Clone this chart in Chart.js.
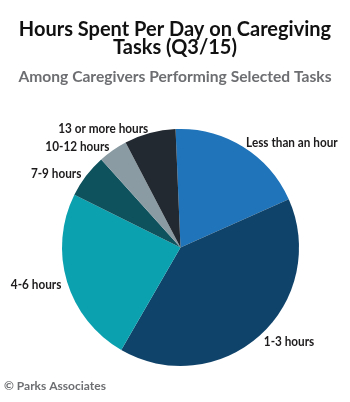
<!DOCTYPE html>
<html>
<head>
<meta charset="utf-8">
<script src="https://cdn.jsdelivr.net/npm/chart.js@4"></script>
<style>
  html, body { margin: 0; padding: 0; background: #fff; }
  #wrap { width: 350px; height: 402px; position: relative; }
</style>
</head>
<body>
<div id="wrap"><canvas id="pie-chart"></canvas></div>
<script>
const categories = ["Less than an hour", "1-3 hours", "4-6 hours", "7-9 hours", "10-12 hours", "13 or more hours"];
const shares = [19, 40, 24, 6, 4, 7];
const sliceColors = ["#1f74ba", "#10436a", "#0ba1af", "#0e525d", "#8a9ba3", "#232930"];
const titleLines = ["Hours Spent Per Day on Caregiving", "Tasks (Q3/15)"];
const subtitleText = "Among Caregivers Performing Selected Tasks";
const sourceText = "\u00a9 Parks Associates";

// condensed look for the slice labels
const labelSqueeze = 0.84;

// titles, slice labels and source line
const textPlugin = {
  id: 'chartText',
  afterDraw(chart) {
    const ctx = chart.ctx;
    ctx.save();
    ctx.textBaseline = 'middle';

    ctx.fillStyle = '#111';
    ctx.textAlign = 'center';
    ctx.font = 'bold 20px Lato';
    ctx.fillText(titleLines[0], 175, 30);
    ctx.fillText(titleLines[1], 175, 48);

    ctx.fillStyle = '#6d6e71';
    ctx.font = 'bold 15.6px Lato';
    ctx.fillText(subtitleText, 175, 77);

    ctx.font = 'bold 14px Lato';
    ctx.fillStyle = '#1d1b1c';
    chart.getDatasetMeta(0).data.forEach((arc, i) => {
      const p = arc.getProps(['x', 'y', 'startAngle', 'endAngle', 'outerRadius'], true);
      const mid = (p.startAngle + p.endAngle) / 2;
      const r = p.outerRadius + 6;
      const x = p.x + Math.cos(mid) * r;
      const y = p.y + Math.sin(mid) * r + 1;
      ctx.save();
      ctx.translate(x, y);
      ctx.scale(labelSqueeze, 1);
      ctx.textAlign = Math.cos(mid) >= 0 ? 'left' : 'right';
      ctx.fillText(categories[i], 0, 0);
      ctx.restore();
    });

    ctx.textAlign = 'left';
    ctx.fillStyle = '#6d6e71';
    ctx.font = 'bold 12px Lato';
    ctx.fillText(sourceText, 4, 386);
    ctx.restore();
  }
};

new Chart(document.getElementById('pie-chart'), {
  type: 'pie',
  data: {
    labels: categories,
    datasets: [{
      data: shares,
      backgroundColor: sliceColors,
      borderWidth: 0
    }]
  },
  options: {
    responsive: true,
    maintainAspectRatio: false,
    animation: false,
    rotation: -2.4,
    layout: { padding: { left: 62, right: 51, top: 129, bottom: 36 } },
    plugins: {
      legend: { display: false },
      tooltip: { enabled: false }
    }
  },
  plugins: [textPlugin]
});
</script>
</body>
</html>
